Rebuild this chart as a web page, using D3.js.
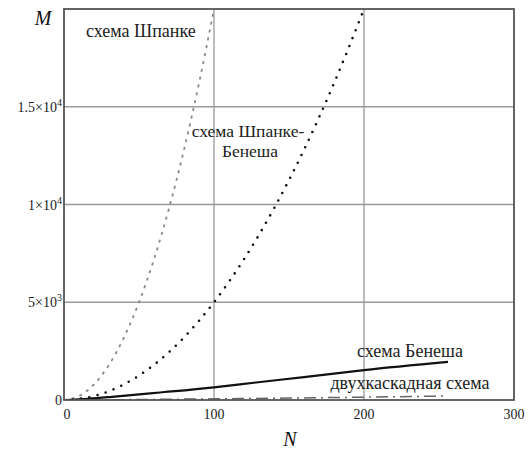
<!DOCTYPE html>
<html><head><meta charset="utf-8">
<script src="https://cdn.jsdelivr.net/npm/d3@7"></script>
</head><body style="margin:0;background:#fff"><svg id="c" width="528" height="451"></svg>
<script>
const spankeN = [0,10,20,30,40,50,60,70,80,90,100];
const spankeM = [0,200,800,1800,3200,5000,7200,9800,12800,16200,20000];
const spBenN = [0,20,40,60,80,100,120,140,160,180,200];
const spBenM = [0,200,800,1800,3200,5000,7200,9800,12800,16200,20000];
const benesN = [0,16,32,64,100,128,160,200,256];
const benesM = [0,64,160,384,650,896,1170,1530,1950];
const twoN = [0,50,100,150,200,256];
const twoM = [0,25,60,100,145,205];
const xTicks = [0,100,200,300];
const yTicks = [0,5000,10000,15000];
const yTickLabels = [["0",""],["5×10","3"],["1×10","4"],["1.5×10","4"]];

const FF = "Times New Roman";
const svg = d3.select("#c");
const x = d3.scaleLinear().domain([0,300]).range([64,514]);
const y = d3.scaleLinear().domain([0,20000]).range([400,9]);

svg.append("g").selectAll("line").data(xTicks.filter(d=>d>0&&d<300)).join("line")
  .attr("x1",d=>x(d)).attr("x2",d=>x(d)).attr("y1",y(0)).attr("y2",y(20000))
  .attr("stroke","#999").attr("stroke-width",1.3);
svg.append("g").selectAll("line").data(yTicks.filter(d=>d>0)).join("line")
  .attr("y1",d=>y(d)).attr("y2",d=>y(d)).attr("x1",x(0)).attr("x2",x(300))
  .attr("stroke","#999").attr("stroke-width",1.3);

svg.append("clipPath").attr("id","pc").append("rect")
  .attr("x",x(0)).attr("y",y(20000)).attr("width",x(300)-x(0)).attr("height",y(0)-y(20000));

const line = d3.line().x(d=>x(d[0])).y(d=>y(d[1])).curve(d3.curveMonotoneX);
const g = svg.append("g").attr("clip-path","url(#pc)");
function draw(N,M,stroke,w,dash,cap){
  g.append("path").datum(N.map((n,i)=>[n,M[i]])).attr("d",line)
   .attr("fill","none").attr("stroke",stroke).attr("stroke-width",w)
   .attr("stroke-dasharray",dash).attr("stroke-linecap",cap||"butt");
}
draw(twoN,twoM,"#666",1.5,"12,5,2,5");
draw(benesN,benesM,"#111",2.2,null);
draw(spankeN,spankeM,"#888",1.8,"3,5");
draw(spBenN,spBenM,"#111",2.6,"0,8.5","round");

svg.append("rect").attr("x",x(0)).attr("y",y(20000)).attr("width",x(300)-x(0)).attr("height",y(0)-y(20000))
  .attr("fill","none").attr("stroke","#555").attr("stroke-width",1.8);

svg.append("g").selectAll("text").data(xTicks).join("text")
  .attr("font-family",FF)
  .attr("x",d=>x(d)+(d===0?3:0)).attr("y",419).attr("text-anchor","middle")
  .attr("font-size",14).attr("fill","#222").text(d=>d);
const yl = svg.append("g").selectAll("text").data(yTicks).join("text")
  .attr("font-family",FF)
  .attr("x",62).attr("y",d=>y(d)+5).attr("text-anchor","end")
  .attr("font-size",14).attr("fill","#222");
yl.each(function(d,i){
  const t=d3.select(this);
  t.append("tspan").text(yTickLabels[i][0]);
  if(yTickLabels[i][1]) t.append("tspan").attr("dy",-6).attr("font-size",10).text(yTickLabels[i][1]);
});

svg.append("text").attr("font-family",FF).attr("x",43).attr("y",25).attr("text-anchor","middle").attr("font-size",20)
  .attr("font-style","italic").attr("fill","#111").text("M");
svg.append("text").attr("font-family",FF).attr("x",290).attr("y",446).attr("text-anchor","middle").attr("font-size",20)
  .attr("font-style","italic").attr("fill","#111").text("N");

const lab=[["схема Шпанке",86,37,"start",18],["схема Шпанке-",248,137,"middle",17.5],["Бенеша",250,157,"middle",17.5],
  ["схема Бенеша",410,357,"middle",18],["двухкаскадная схема",410,389,"middle",18]];
svg.append("g").selectAll("text").data(lab).join("text")
  .attr("font-family",FF)
  .attr("x",d=>d[1]).attr("y",d=>d[2]).attr("text-anchor",d=>d[3])
  .attr("font-size",d=>d[4]).attr("fill","#222").text(d=>d[0]);
</script></body></html>
